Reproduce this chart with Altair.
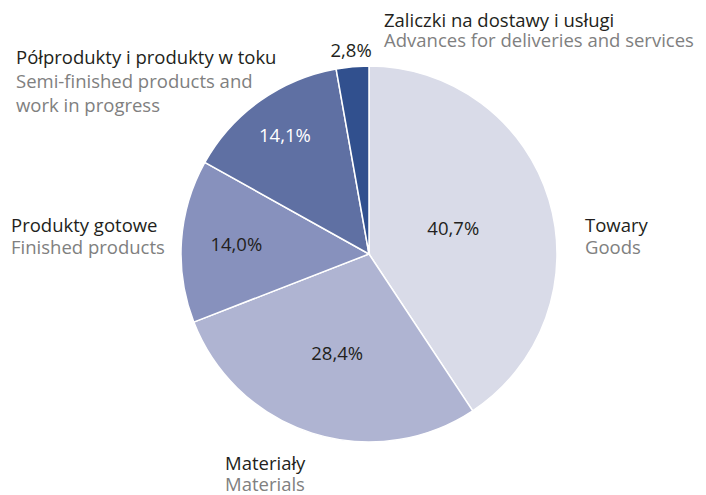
import altair as alt
import pandas as pd

# ---- data ----
categories = ["Towary", "Materiały", "Produkty gotowe",
              "Półprodukty i produkty w toku", "Zaliczki na dostawy i usługi"]
english = [["Goods"], ["Materials"], ["Finished products"],
           ["Semi-finished products and", "work in progress"],
           ["Advances for deliveries and services"]]
shares = [40.7, 28.4, 14.0, 14.1, 2.8]
share_labels = ["40,7%", "28,4%", "14,0%", "14,1%", "2,8%"]

# ---- styling / layout (not data) ----
colors = ["#d9dbe8", "#afb4d2", "#8791bd", "#5f70a3", "#31508e"]
value_text_colors = ["#231f20", "#231f20", "#231f20", "#ffffff", "#231f20"]
value_label_radius = [88, 105, 133, 145, 204]
# outer label anchors relative to pie centre: (dx of left edge, dy of first baseline, line step)
outer_anchor = [(216, -22, 22), (-144, 216, 21), (-358, -22, 22), (-353, -190, 24), (15, -227, 20)]

FONT = "Open Sans"
FS = 18.5
R = 188
W = H = 400
CX, CY = W / 2, H / 2

slices = pd.DataFrame({
    "category": categories,
    "share": shares,
    "label": share_labels,
    "order": list(range(len(categories))),
    "tcolor": value_text_colors,
    "lr": value_label_radius,
})

rows = []
for i, cat in enumerate(categories):
    dx, dy, step = outer_anchor[i]
    lines = [(cat, "pl")] + [(e, "en") for e in english[i]]
    for j, (t, kind) in enumerate(lines):
        rows.append({"text": t, "kind": kind, "x": CX + dx, "y": CY + dy + j * step})
outer = pd.DataFrame(rows)

color_scale = alt.Scale(domain=categories, range=colors)

arcs = alt.Chart(slices).mark_arc(outerRadius=R, stroke="white", strokeWidth=1.5).encode(
    theta=alt.Theta("share:Q", stack=True),
    color=alt.Color("category:N", scale=color_scale, legend=None),
    order=alt.Order("order:Q", sort="ascending"),
)

# mid-angle of each slice computed from the shares (clockwise from 12 o'clock)
values = alt.Chart(slices).transform_joinaggregate(
    total="sum(share)"
).transform_window(
    cum="sum(share)", sort=[alt.SortField("order", order="ascending")],
    frame=[None, 0]
).transform_calculate(
    px=f"{CX} + datum.lr * sin((datum.cum - datum.share / 2) / datum.total * 2 * PI)",
    py=f"{CY} - datum.lr * cos((datum.cum - datum.share / 2) / datum.total * 2 * PI)",
).mark_text(font=FONT, fontSize=FS, baseline="middle", align="center").encode(
    x=alt.X("px:Q", scale=None),
    y=alt.Y("py:Q", scale=None),
    text="label:N",
    color=alt.Color("tcolor:N", scale=None),
)

outer_text = alt.Chart(outer).mark_text(font=FONT, fontSize=FS, align="left", baseline="alphabetic").encode(
    x=alt.X("x:Q", scale=None),
    y=alt.Y("y:Q", scale=None),
    text="text:N",
    color=alt.Color("kind:N", scale=alt.Scale(domain=["pl", "en"], range=["#231f20", "#808080"]), legend=None),
)

chart = alt.layer(arcs, values, outer_text).resolve_scale(color="independent").properties(
    width=W, height=H,
    padding={"left": 161, "top": 46, "right": 129, "bottom": 41},
    autosize="none",
).configure_view(stroke=None)

chart.save("out.html", embed_options={"renderer": "svg", "actions": False})
